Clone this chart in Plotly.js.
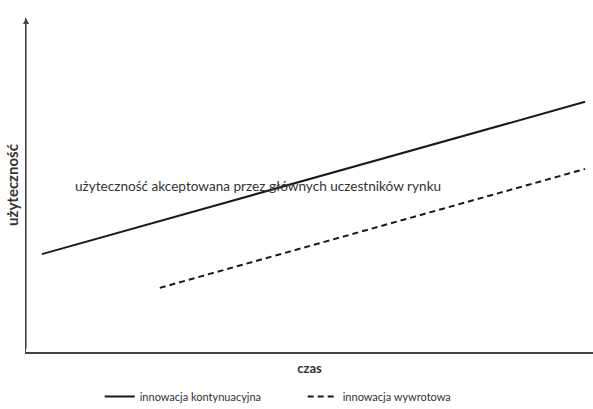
<!DOCTYPE html>
<html><head><meta charset="utf-8">
<script src="https://cdn.plot.ly/plotly-3.0.1.min.js"></script>
<style>body{margin:0;background:#fff}#c{width:593px;height:409px}</style>
</head><body><div id="c"></div>
<script>
const seriesNames = ["innowacja kontynuacyjna", "innowacja wywrotowa"];
const continuousX = [2.8, 98.6];
const continuousY = [29.3, 74.9];
const disruptiveX = [23.6, 98.6];
const disruptiveY = [19.2, 54.8];
const annotationText = "użyteczność akceptowana przez głównych uczestników rynku";
const xTitle = "czas";
const yTitle = "użyteczność";

const font = "Lato, Open Sans, sans-serif";
const traces = [
  {x: continuousX, y: continuousY, mode: "lines", name: seriesNames[0],
   line: {color: "#1a1a1a", width: 2}},
  {x: disruptiveX, y: disruptiveY, mode: "lines", name: seriesNames[1],
   line: {color: "#1a1a1a", width: 2, dash: "6px,4px"}}
];
const layout = {
  width: 593, height: 409,
  margin: {l: 26, r: 0, t: 18, b: 57, autoexpand: false},
  paper_bgcolor: "#fff", plot_bgcolor: "#fff",
  font: {family: font, color: "#333", size: 11},
  showlegend: true,
  legend: {orientation: "h", x: 0.13, xanchor: "left", y: -0.09, yanchor: "top",
           font: {size: 11, color: "#333"}, traceorder: "normal",
           entrywidth: 158, entrywidthmode: "pixels"},
  xaxis: {range: [0, 100], showgrid: false, zeroline: false, showticklabels: false,
          ticks: "", showline: true, linecolor: "#444", linewidth: 1.5, automargin: false,
          title: {text: "<b>" + xTitle + "</b>", font: {size: 13, color: "#333"}, standoff: 11}},
  yaxis: {range: [0, 100], showgrid: false, zeroline: false, showticklabels: false,
          ticks: "", showline: true, linecolor: "#444", linewidth: 1.5, automargin: false,
          title: {text: "<b>" + yTitle + "</b>", font: {size: 15, color: "#333"}, standoff: 2}},
  annotations: [
    {x: 8.3, y: 49.7, xref: "x", yref: "y", text: annotationText, showarrow: false,
     xanchor: "left", yanchor: "middle", font: {size: 13.6, color: "#333"}},
    {x: 0, y: 100, xref: "x", yref: "y", ax: 0, ay: 0.5, axref: "x", ayref: "y",
     text: "", showarrow: true, arrowhead: 2, arrowsize: 1, arrowwidth: 1.2, arrowcolor: "#444"}
  ]
};
Plotly.newPlot("c", traces, layout, {displayModeBar: false, staticPlot: true});
</script></body></html>
